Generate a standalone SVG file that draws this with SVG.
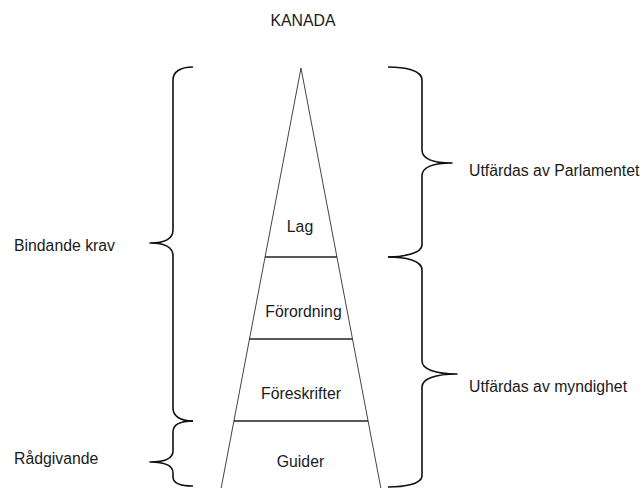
<svg xmlns="http://www.w3.org/2000/svg" width="643" height="488" viewBox="0 0 643 488">
  <style>
    text { font-family: "Liberation Sans", Arial, sans-serif; font-size: 15.8px; fill: #1a1a1a; }
    .mid { text-anchor: middle; }
    .side { fill: none; stroke: #444; stroke-width: 1; }
    .tier { stroke: #222; stroke-width: 1.5; }
    .brace { fill: none; stroke: #111; stroke-width: 1.6; stroke-linejoin: round; }
  </style>

  <rect width="643" height="488" fill="#fff"/>

  <g id="title">
    <text class="mid" x="303" y="26">KANADA</text>
  </g>

  <!-- pyramid outline -->
  <g id="pyramid">
    <polyline class="side" points="220.4,492 301,68 381.6,492"/>
  </g>

  <!-- tier dividers -->
  <g id="connectors">
    <line class="tier" x1="265.1" y1="257" x2="336.9" y2="257"/>
    <line class="tier" x1="249.5" y1="339" x2="352.5" y2="339"/>
    <line class="tier" x1="233.9" y1="421" x2="368.1" y2="421"/>
  </g>

  <g id="lag">
    <text class="mid" x="300" y="232">Lag</text>
  </g>
  <g id="forordning">
    <text class="mid" x="303.5" y="317">Förordning</text>
  </g>
  <g id="foreskrifter">
    <text class="mid" x="301" y="399">Föreskrifter</text>
  </g>
  <g id="guider">
    <text class="mid" x="300.5" y="467">Guider</text>
  </g>

  <!-- left braces -->
  <g id="bindande-krav">
    <path class="brace" d="M193,67 C180,67 173,72 173,80 L173,230 C173,238 166,243 150,243 C166,243 173,248 173,256 L173,408 C173,416 180,421 193,421"/>
    <text x="14" y="251">Bindande krav</text>
  </g>
  <g id="radgivande">
    <path class="brace" d="M193,421 C180,421 173,425 173,432 L173,451 C173,458 166,462 150,462 C166,462 173,466 173,473 L173,477 C173,483 180,486 193,486"/>
    <text x="14" y="464">Rådgivande</text>
  </g>

  <!-- right braces -->
  <g id="parlamentet">
    <path class="brace" d="M388,67 C404,67 422,70 422,80 L422,150 C422,158 432,163 452,163 C432,163 422,168 422,176 L422,245 C422,253 404,257 388,257"/>
    <text x="469" y="176">Utfärdas av Parlamentet</text>
  </g>
  <g id="myndighet">
    <path class="brace" d="M388,257 C404,257 422,260 422,270 L422,361 C422,369 435,374 457,374 C435,374 422,379 422,387 L422,476 C422,484 404,487 388,487"/>
    <text x="469" y="392">Utfärdas av myndighet</text>
  </g>
</svg>
